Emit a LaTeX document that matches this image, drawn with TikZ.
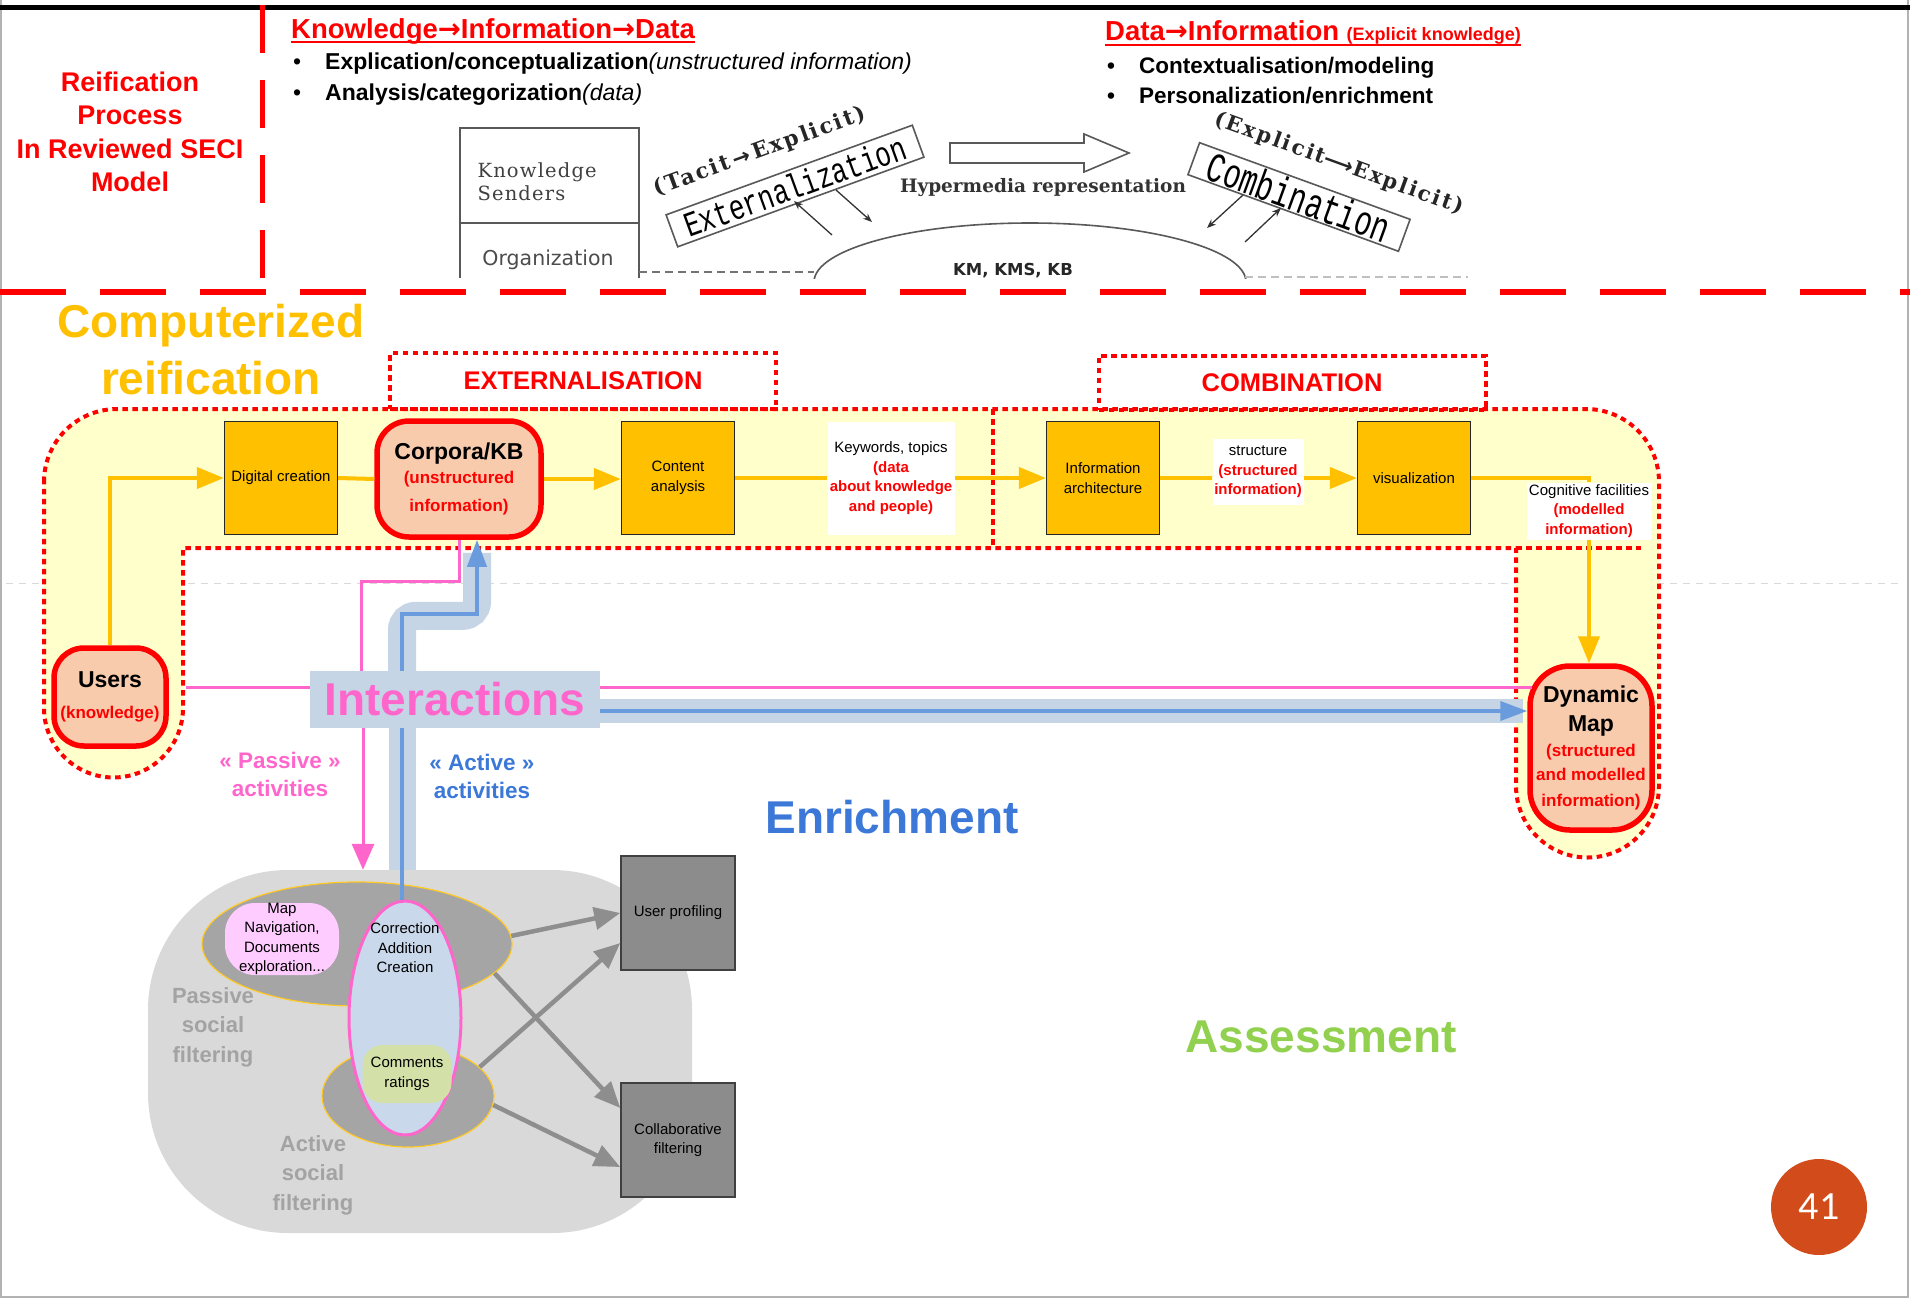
\documentclass[tikz,border=0pt]{standalone}
\usepackage{fontspec}
\usepackage{graphicx}
\setmainfont{Liberation Sans}
\newfontfamily\dvs{DejaVu Sans}
\newfontfamily\dvserif{DejaVu Serif}
\newfontfamily\dvserifw{DejaVu Serif}[LetterSpace=6.0]
\newfontfamily\dvserifr{DejaVu Serif}[LetterSpace=10.0]
\newfontfamily\lmono{Liberation Mono}
\newfontfamily\carl{Carlito}
\usetikzlibrary{arrows.meta,shapes.geometric}
\newcommand{\fsz}[2]{\fontsize{#1}{#2}\selectfont}

\definecolor{ora}{HTML}{FFC000}
\definecolor{ylw}{HTML}{FFFFCC}
\definecolor{peach}{HTML}{F8CBAD}
\definecolor{pnk}{HTML}{FF66CC}
\definecolor{band}{HTML}{C6D5E6}
\definecolor{bln}{HTML}{6A9BDC}
\definecolor{btxt}{HTML}{3C78D8}
\definecolor{grn}{HTML}{92D050}
\definecolor{blobc}{HTML}{D9D9D9}
\definecolor{dgray}{HTML}{A5A5A5}
\definecolor{boxg}{HTML}{8C8C8C}
\definecolor{arrg}{HTML}{8E8E8E}
\definecolor{pinkfill}{HTML}{FFCCFF}
\definecolor{grnfill}{HTML}{D3E0A8}
\definecolor{corrfill}{HTML}{C9D8EA}
\definecolor{pgc}{HTML}{D24B1A}
\definecolor{ptxt}{HTML}{A3A3A3}

\pgfdeclarelayer{back}
\pgfdeclarelayer{mid}
\pgfsetlayers{back,mid,main}

\begin{document}
\begin{tikzpicture}[x=1pt,y=-1pt,
  ybox/.style={draw=black!85, line width=1.3pt, fill=ora, minimum width=113pt, minimum height=113pt, inner sep=0pt, align=center, font=\fsz{15}{19.5}},
  capsule/.style={draw=red, line width=5.5pt, fill=peach, inner sep=0pt, align=center},
  lbl/.style={fill=white, inner sep=0pt, align=center, font=\fsz{15}{19.5}},
  rdot/.style={draw=red, line width=4pt, dash pattern=on 5.5pt off 4.5pt},
  oline/.style={draw=ora, line width=4pt},
  oarr/.style={oline, -{Triangle[length=27pt,width=21pt]}},
  pline/.style={draw=pnk, line width=3pt},
  parr/.style={pline, -{Triangle[length=26pt,width=22pt]}},
  bband/.style={draw=band, line width=28pt, rounded corners=14pt},
  bline/.style={draw=bln, line width=4pt},
  barr/.style={bline, -{Triangle[length=27pt,width=19pt]}},
  garr/.style={draw=arrg, line width=4.5pt, -{Triangle[length=26pt,width=22pt]}},
  gbox/.style={draw=black!75, line width=1.5pt, fill=boxg, minimum width=114pt, minimum height=114pt, inner sep=0pt, align=center, font=\fsz{15}{19.5}},
  sarr/.style={draw=black!80, line width=1.3pt, -{Stealth[length=9pt,width=7pt]}},
  seci/.style={draw=black!65, line width=1.6pt},
  rd/.style={text=red, font=\bfseries\fsz{14.5}{19.5}}
]
\useasboundingbox (0,0) rectangle (1910,1298);

% ---------- background, frame, faint guide ----------
\begin{pgfonlayer}{back}
\fill[white] (0,0) rectangle (1910,1298);
\draw[black!15, dash pattern=on 7pt off 6pt, line width=0.8pt] (6,583) -- (1904,583);
% yellow computerized-reification region
\path[fill=ylw, rdot] (44,482) arc[start angle=180,end angle=90,radius=73pt]
  -- (1586,409) arc[start angle=90,end angle=0,radius=73pt]
  -- (1659,786) arc[start angle=0,end angle=-180,radius=71.5pt]
  -- (1516,548) -- (183,548) -- (183,708)
  arc[start angle=0,end angle=-180,radius=69.5pt] -- cycle;
\draw[rdot] (993,409) -- (993,548);
\draw[rdot] (1516,548) -- (1641,548);
\end{pgfonlayer}
\draw[black!30, line width=1.5pt] (1,0) -- (1,1297) -- (1908,1297) -- (1908,0);
\draw[line width=5pt] (0,7.5) -- (1910,7.5);

% ---------- header ----------
\draw[red, line width=5pt, dash pattern=on 48pt off 27pt] (262,5) -- (262,278);
\draw[red, line width=5.5pt, dash pattern=on 66pt off 34pt] (0,292) -- (1910,292);

\node[text=red, align=center, font=\bfseries\fsz{27}{33.5}] (reif) at (130,132)
  {Reification\\Process\\In Reviewed SECI\\Model};

\node[anchor=base west, inner sep=0pt, text=red, font=\bfseries\fsz{27.5}{30}] (h1) at (291,38)
  {Knowledge{\dvs\bfseries →}Information{\dvs\bfseries →}Data};
\draw[red, line width=2pt] ([yshift=-4pt]h1.base west) -- ([yshift=-4pt]h1.base east);
\node[anchor=base west, inner sep=0pt, font=\fsz{23}{26}] (b1) at (293,70)
  {\makebox[32pt][l]{•}\textbf{Explication/conceptualization}\textit{(unstructured information)}};
\node[anchor=base west, inner sep=0pt, font=\fsz{23}{26}] (b2) at (293,100)
  {\makebox[32pt][l]{•}\textbf{Analysis/categorization}\textit{(data)}};

\node[anchor=base west, inner sep=0pt, text=red, font=\bfseries\fsz{27.5}{30}] (h2) at (1105,41)
  {Data{\dvs\bfseries →}Information {\fsz{18}{20}(Explicit knowledge)}};
\draw[red, line width=2pt] ([yshift=-4pt]h2.base west) -- ([yshift=-4pt]h2.base east);
\node[anchor=base west, inner sep=0pt, font=\bfseries\fsz{22.5}{26}] (b3) at (1107,74)
  {\makebox[32pt][l]{•}Contextualisation/modeling};
\node[anchor=base west, inner sep=0pt, font=\bfseries\fsz{22.5}{26}] (b4) at (1107,103)
  {\makebox[32pt][l]{•}Personalization/enrichment};

% SECI sketch
\draw[seci] (460,278) -- (460,128) -- (639,128) -- (639,278);
\draw[seci] (460,223) -- (639,223);
\node[anchor=west, align=left, text=black!75, font=\dvserifw\fsz{19.5}{23}] (ks) at (474,182) {Knowledge\\Senders};
\node[text=black!70, font=\dvs\fsz{20.5}{22}] (org) at (548,260) {Organization};
\begin{scope}
  \clip (780,200) rectangle (1280,278);
  \node[ellipse, seci, minimum width=432pt, minimum height=118pt, inner sep=0pt] (km) at (1030,282) {};
\end{scope}
\node[font=\dvs\bfseries\fsz{16.5}{18}, text=black!85] (kmt) at (1013,271) {KM, KMS, KB};
\draw[black!55, line width=1.3pt, dash pattern=on 8pt off 5pt] (639,272) -- (814,272);
\draw[black!25, line width=1.3pt, dash pattern=on 8pt off 5pt] (1245,277) -- (1468,277);

\node[seci, fill=white, rotate=20, minimum width=262pt, minimum height=34pt, inner sep=0pt] (ext) at (795,186)
  {\scalebox{1}[1.35]{\lmono\fsz{26}{26}Externalization}};
\node[rotate=20, inner sep=0pt, text=black!85, font=\dvserifr\bfseries\fsz{21.5}{22}] (tacit) at (760,152)
  {(Tacit\,{\dvs →}\,Explicit)};
\node[seci, fill=white, rotate=-20, minimum width=224pt, minimum height=34pt, inner sep=0pt] (comb) at (1299,197)
  {\scalebox{1}[1.45]{\lmono\fsz{29}{29}Combination}};
\node[rotate=-20, inner sep=0pt, text=black!85, font=\dvserifr\bfseries\fsz{21}{22}] (expl) at (1339,164)
  {(Explicit{\dvs ⟶}Explicit)};

\coordinate (e1a) at (832,235); \coordinate (e1b) at (794,201);
\coordinate (e2a) at (836,190); \coordinate (e2b) at (872,222);
\coordinate (c1a) at (1243,195); \coordinate (c1b) at (1207,228);
\coordinate (c2a) at (1245,242); \coordinate (c2b) at (1281,208);
\draw[sarr] (e1a) -- (e1b);
\draw[sarr] (e2a) -- (e2b);
\draw[sarr] (c1a) -- (c1b);
\draw[sarr] (c2a) -- (c2b);

\draw[seci, fill=white] (950,143) -- (1084,143) -- (1084,134) -- (1129,153) -- (1084,172) -- (1084,163) -- (950,163) -- cycle;
\node[text=black!80, font=\dvserif\bfseries\fsz{18.5}{20}] (hyp) at (1043,188) {Hypermedia representation};

% ---------- computerized reification ----------
\node[text=ora, align=center, font=\bfseries\fsz{46}{57}] (title) at (211,350) {Computerized\\reification};
\node[rdot, minimum width=386pt, minimum height=56pt, text=red, font=\bfseries\fsz{25.5}{28}] (extbox) at (583,381) {EXTERNALISATION};
\node[rdot, minimum width=387pt, minimum height=54pt, text=red, font=\bfseries\fsz{25.5}{28}] (combbox) at (1292,382.5) {COMBINATION};

\node[ybox] (dc) at (281,478) {Digital creation};
\node[capsule, rounded corners=32pt, minimum width=164pt, minimum height=116pt, font=\bfseries\fsz{17}{26}] (corp) at (459,479)
  {\fsz{23}{26}Corpora/KB\\[-2pt]\textcolor{red}{(unstructured}\\[2pt]\textcolor{red}{information)}};
\node[ybox] (ca) at (678,478) {Content\\analysis};
\node[lbl, minimum width=127pt, minimum height=113pt] (kw) at (891,478)
  {Keywords, topics\\\textcolor{red}{\bfseries(data}\\\textcolor{red}{\bfseries about knowledge}\\\textcolor{red}{\bfseries and people)}};
\node[ybox] (ia) at (1103,478) {Information\\architecture};
\node[lbl, minimum width=91pt, minimum height=66pt] (st) at (1258,472)
  {structure\\\textcolor{red}{\bfseries(structured}\\\textcolor{red}{\bfseries information)}};
\node[ybox] (vis) at (1414,478) {visualization};
\node[lbl, minimum width=125pt, minimum height=57pt] (cog) at (1589,511)
  {Cognitive facilities\\\textcolor{red}{\bfseries(modelled}\\\textcolor{red}{\bfseries information)}};

\node[capsule, rounded corners=30pt, minimum width=112pt, minimum height=98pt, font=\bfseries\fsz{17}{31}] (users) at (110,697)
  {\fsz{23}{31}Users\\\textcolor{red}{(knowledge)}};
\node[capsule, rounded corners=40pt, minimum width=122pt, minimum height=164pt, font=\bfseries\fsz{17}{24}] (dm) at (1591,748)
  {\fsz{23}{24}Dynamic\\[5pt]\fsz{23}{24}Map\\[1pt]\textcolor{red}{(structured}\\\textcolor{red}{and modelled}\\[2pt]\textcolor{red}{information)}};

\node[fill=band, minimum width=290pt, minimum height=57pt, inner sep=0pt, text=pnk, font=\bfseries\fsz{46}{50}] (inter) at (455,699.5) {Interactions};

\node[text=pnk, align=center, font=\bfseries\fsz{22.5}{28}] (pas) at (280,774) {« Passive »\\activities};
\node[text=btxt, align=center, font=\bfseries\fsz{22.5}{28}] (act) at (482,776) {« Active »\\activities};
\node[text=btxt, font=\bfseries\fsz{46}{50}] (enr) at (892,817) {Enrichment};
\node[text=grn, font=\bfseries\fsz{46}{50}] (ass) at (1321,1037) {Assessment};

% social filtering cluster
\node[fill=blobc, rounded corners=140pt, minimum width=544pt, minimum height=363pt, inner sep=0pt] (blob) at (420,1051.5) {};
\node[ellipse, fill=dgray, draw=ora!85, line width=1.2pt, minimum width=310pt, minimum height=124pt, inner sep=0pt] (pe) at (357,944) {};
\node[ellipse, fill=dgray, draw=ora!85, line width=1.2pt, minimum width=172pt, minimum height=102pt, inner sep=0pt] (ae) at (408,1096) {};
\node[ellipse, fill=corrfill, draw=pnk, line width=3pt, minimum width=112pt, minimum height=234pt, inner sep=0pt] (corr) at (405,1018) {};
\node[fill=pinkfill, rounded corners=30pt, minimum width=114pt, minimum height=72pt, inner sep=0pt, align=center, font=\fsz{15}{19.5}] (mapn) at (282,939)
  {Map\\Navigation,\\Documents\\exploration...};
\node[align=center, font=\fsz{15}{19.5}] (corrt) at (405,948) {Correction\\Addition\\Creation};
\node[fill=grnfill, rounded corners=20pt, minimum width=89pt, minimum height=58pt, inner sep=0pt, align=center, font=\fsz{15}{19.5}] (com) at (407,1074) {Comments\\ratings};
\node[text=ptxt, align=center, font=\bfseries\fsz{22}{29.5}] (psf) at (213,1027) {Passive\\social\\filtering};
\node[text=ptxt, align=center, font=\bfseries\fsz{22}{29.5}] (asf) at (313,1175) {Active\\social\\filtering};
\node[gbox] (up) at (678,913) {User profiling};
\node[gbox] (cf) at (678,1140) {Collaborative\\filtering};

\draw[garr] (pe.3) -- (up.west);
\draw[garr] (pe.-12) -- ([yshift=32pt]cf.west);
\draw[garr] (ae.22) -- ([yshift=-30pt]up.west);
\draw[garr] (ae.-6) -- ([yshift=-27pt]cf.west);

% ---------- flows ----------
\coordinate (pk) at (0,687);
\coordinate (bk) at (0,711);
\begin{pgfonlayer}{mid}
\draw[bband] ([xshift=-53pt]inter.north) -- ++(0,-55) -| ([xshift=18pt,yshift=-13pt]corp.south);
\draw[band, line width=27pt] ([xshift=-53pt]inter.south) -- ([xshift=-53pt]inter.south |- blob.north);
\draw[band, line width=24pt] (inter.east |- bk) -- ([xshift=-4pt]dm.west |- bk);
\end{pgfonlayer}

\draw[oarr] (users.north) |- (dc.west);
\draw[oline] (dc.east) -- (corp.west);
\draw[oarr] (corp.east) -- (corp.east -| ca.west);
\draw[oline] (ca.east) -- (kw.west);
\draw[oarr] (kw.east) -- (ia.west);
\draw[oline] (ia.east) -- (ia.east -| st.west);
\draw[oarr] (ia.east -| st.east) -- (vis.west);
\draw[oline] (vis.east) -| (cog.north);
\draw[oarr] (cog.south) -- (cog.south |- dm.north);

\draw[pline] ([xshift=17pt]users.east |- pk) -- (inter.west |- pk);
\draw[pline] (inter.east |- pk) -- ([xshift=5pt]dm.west |- pk);
\draw[barr] (inter.east |- bk) -- (dm.west |- bk);
\draw[pline] ([xshift=-94pt]inter.north) -- ++(0,-89) -| (corp.south);
\draw[barr] ([xshift=-53pt]inter.north) -- ++(0,-57) -| ([xshift=18pt]corp.south);
\draw[parr] ([xshift=-92pt]inter.south) -- ([xshift=-92pt]inter.south |- blob.north);
\draw[bline] ([xshift=-53pt]inter.south) -- ([xshift=-53pt]inter.south |- corr.north);

% page number
\node[circle, fill=pgc, minimum size=96pt, inner sep=0pt, text=white, font=\carl\fsz{40}{40}] (pg) at (1819,1207) {41};
\end{tikzpicture}
\end{document}
